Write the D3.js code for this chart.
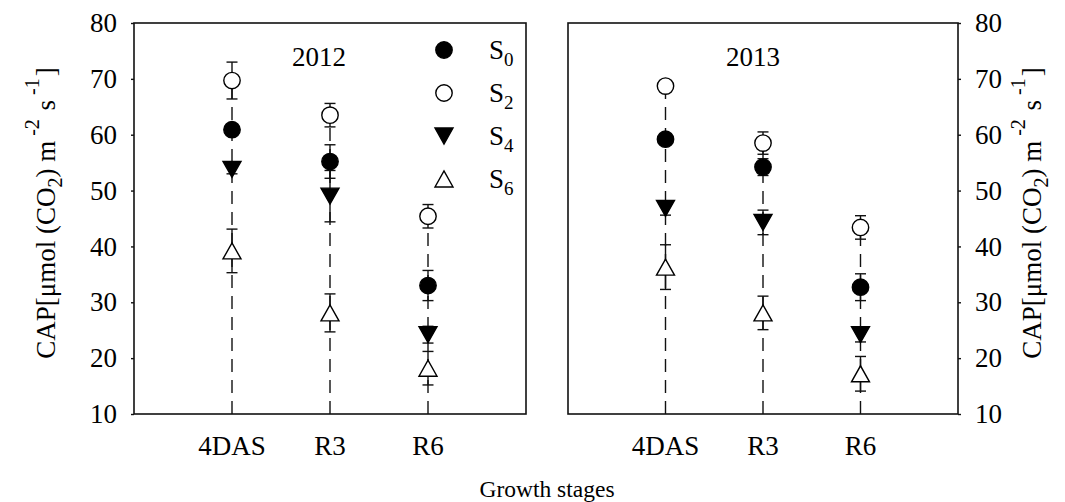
<!DOCTYPE html>
<html>
<head>
<meta charset="utf-8">
<script src="https://cdn.jsdelivr.net/npm/d3@7"></script>
<style>
  body { margin: 0; background: #fff; }
  svg { display: block; }
  svg text { font-family: "Liberation Serif", "Tinos", "Times New Roman", Times, "DejaVu Serif", serif; fill: #000; }
</style>
</head>
<body>
<svg id="chart" width="1065" height="502"></svg>
<script>
// ---- data -------------------------------------------------------------
const stages = ["4DAS", "R3", "R6"];
const years = ["2012", "2013"];
const seriesNames = ["S0", "S2", "S4", "S6"];
const yTicks = [10, 20, 30, 40, 50, 60, 70, 80];

// CAP means and error bars, 2012
const s0Mean2012 = [60.9, 55.2, 33.0];
const s0Err2012  = [0.9, 3.0, 2.7];
const s2Mean2012 = [69.7, 63.5, 45.4];
const s2Err2012  = [3.3, 2.1, 2.1];
const s4Mean2012 = [53.8, 49.0, 24.2];
const s4Err2012  = [0.8, 4.6, 1.5];
const s6Mean2012 = [39.2, 28.1, 18.2];
const s6Err2012  = [3.9, 3.4, 3.0];

// CAP means and error bars, 2013
const s0Mean2013 = [59.2, 54.2, 32.7];
const s0Err2013  = [0.9, 1.5, 2.4];
const s2Mean2013 = [68.7, 58.5, 43.4];
const s2Err2013  = [0.8, 2.0, 2.1];
const s4Mean2013 = [46.8, 44.3, 24.2];
const s4Err2013  = [1.2, 2.2, 1.3];
const s6Mean2013 = [36.3, 28.1, 17.2];
const s6Err2013  = [4.0, 3.0, 3.1];

const seriesByYear = {
  "2012": [
    { name: "S0", mean: s0Mean2012, err: s0Err2012 },
    { name: "S2", mean: s2Mean2012, err: s2Err2012 },
    { name: "S4", mean: s4Mean2012, err: s4Err2012 },
    { name: "S6", mean: s6Mean2012, err: s6Err2012 }
  ],
  "2013": [
    { name: "S0", mean: s0Mean2013, err: s0Err2013 },
    { name: "S2", mean: s2Mean2013, err: s2Err2013 },
    { name: "S4", mean: s4Mean2013, err: s4Err2013 },
    { name: "S6", mean: s6Mean2013, err: s6Err2013 }
  ]
};

// ---- layout & style ---------------------------------------------------
const frameTop = 23, frameBottom = 414;
const panels = [
  { year: "2012", left: 134, right: 526, axisSide: "left" },
  { year: "2013", left: 568, right: 958, axisSide: "right" }
];
const INK = "#111";
const FONT = 27;
const SERIF = '"Liberation Serif", "Tinos", "Times New Roman", Times, "DejaVu Serif", serif';

const markerStyle = {
  S0: { shape: "circle",   filled: true },
  S2: { shape: "circle",   filled: false },
  S4: { shape: "triDown",  filled: true },
  S6: { shape: "triUp",    filled: false }
};

function markerPath(shape) {
  if (shape === "circle") return d3.symbol(d3.symbolCircle, Math.PI * 8.2 * 8.2)();
  const hw = 9, hh = 8;
  if (shape === "triDown") return `M${-hw},${-hh}L${hw},${-hh}L0,${hh}Z`;
  return `M${-hw},${hh}L${hw},${hh}L0,${-hh}Z`;
}

const svg = d3.select("#chart").style("font-family", SERIF);
const y = d3.scaleLinear().domain([10, 80]).range([frameBottom, frameTop]);

// y-axis title with sub/superscripts
function axisTitle(g, cx, cy) {
  const t = g.append("text")
    .attr("transform", `translate(${cx},${cy}) rotate(-90)`)
    .attr("text-anchor", "middle")
    .attr("font-family", SERIF)
    .attr("font-size", FONT);
  t.append("tspan").text("CAP[μmol (CO");
  t.append("tspan").attr("font-size", 20).attr("dy", 7).text("2");
  t.append("tspan").attr("dy", -7).text(") m");
  t.append("tspan").attr("font-size", 20).attr("dx", 5).attr("dy", -16).text("-2");
  t.append("tspan").attr("dx", 2).attr("dy", 16).text(" s");
  t.append("tspan").attr("font-size", 20).attr("dx", 5).attr("dy", -16).text("-1");
  t.append("tspan").attr("dx", 2).attr("dy", 16).text("]");
}

panels.forEach(p => {
  const g = svg.append("g");
  const x = d3.scalePoint().domain(stages).range([p.left, p.right]).padding(1);
  const series = seriesByYear[p.year];

  // dashed drop lines from the highest mean down to the axis
  stages.forEach((s, i) => {
    const top = d3.max(series, d => d.mean[i]);
    g.append("line")
      .attr("x1", x(s)).attr("x2", x(s))
      .attr("y1", y(10)).attr("y2", y(top))
      .attr("stroke", INK).attr("stroke-width", 1.4)
      .attr("stroke-dasharray", "13,8");
  });

  // error bars
  series.forEach(se => {
    stages.forEach((s, i) => {
      const lo = y(se.mean[i] - se.err[i]), hi = y(se.mean[i] + se.err[i]);
      const cx = x(s);
      g.append("line").attr("x1", cx).attr("x2", cx).attr("y1", lo).attr("y2", hi)
        .attr("stroke", INK).attr("stroke-width", 1.4);
      [lo, hi].forEach(yy => g.append("line")
        .attr("x1", cx - 5.5).attr("x2", cx + 5.5).attr("y1", yy).attr("y2", yy)
        .attr("stroke", INK).attr("stroke-width", 1.4));
    });
  });

  // markers
  series.forEach(se => {
    const st = markerStyle[se.name];
    g.selectAll(null).data(stages).join("path")
      .attr("transform", (s, i) => `translate(${x(s)},${y(se.mean[i])})`)
      .attr("d", markerPath(st.shape))
      .attr("fill", st.filled ? "#000" : "#fff")
      .attr("stroke", "#000").attr("stroke-width", 1.4);
  });

  // frame
  g.append("rect")
    .attr("x", p.left).attr("y", frameTop)
    .attr("width", p.right - p.left).attr("height", frameBottom - frameTop)
    .attr("fill", "none").attr("stroke", INK).attr("stroke-width", 1.6);

  // y axis
  const axis = (p.axisSide === "left" ? d3.axisLeft(y) : d3.axisRight(y))
    .tickValues(yTicks).tickSize(3).tickPadding(14);
  const ag = g.append("g")
    .attr("transform", `translate(${p.axisSide === "left" ? p.left : p.right},0)`)
    .call(axis)
    .attr("font-family", SERIF)
    .attr("font-size", FONT);
  ag.select(".domain").remove();
  ag.selectAll(".tick line").attr("stroke", INK).attr("stroke-width", 1.4);
  ag.selectAll(".tick text").attr("fill", "#000");

  // x category labels
  g.selectAll(null).data(stages).join("text")
    .attr("x", s => x(s)).attr("y", frameBottom + 41)
    .attr("text-anchor", "middle").attr("font-size", FONT)
    .attr("font-family", SERIF)
    .text(s => s);

  // year label
  g.append("text")
    .attr("x", p.left + 185).attr("y", 66)
    .attr("text-anchor", "middle").attr("font-size", FONT)
    .attr("font-family", SERIF)
    .text(p.year);
});

// legend (inside the 2012 panel)
const legend = svg.append("g").attr("font-family", SERIF);
seriesNames.forEach((name, k) => {
  const st = markerStyle[name];
  const ly = 50 + k * 43;
  legend.append("path")
    .attr("transform", `translate(444,${ly})`)
    .attr("d", markerPath(st.shape))
    .attr("fill", st.filled ? "#000" : "#fff")
    .attr("stroke", "#000").attr("stroke-width", 1.4);
  const t = legend.append("text").attr("x", 489).attr("y", ly + 9).attr("font-size", FONT);
  t.append("tspan").text(name[0]);
  t.append("tspan").attr("font-size", 19).attr("dy", 7).text(name.slice(1));
});

// axis titles
axisTitle(svg, 55, 213);
axisTitle(svg, 1041, 213);

// shared x-axis title
svg.append("text")
  .attr("x", 547).attr("y", 497)
  .attr("text-anchor", "middle").attr("font-size", 23.5)
  .attr("font-family", SERIF)
  .text("Growth stages");
</script>
</body>
</html>
